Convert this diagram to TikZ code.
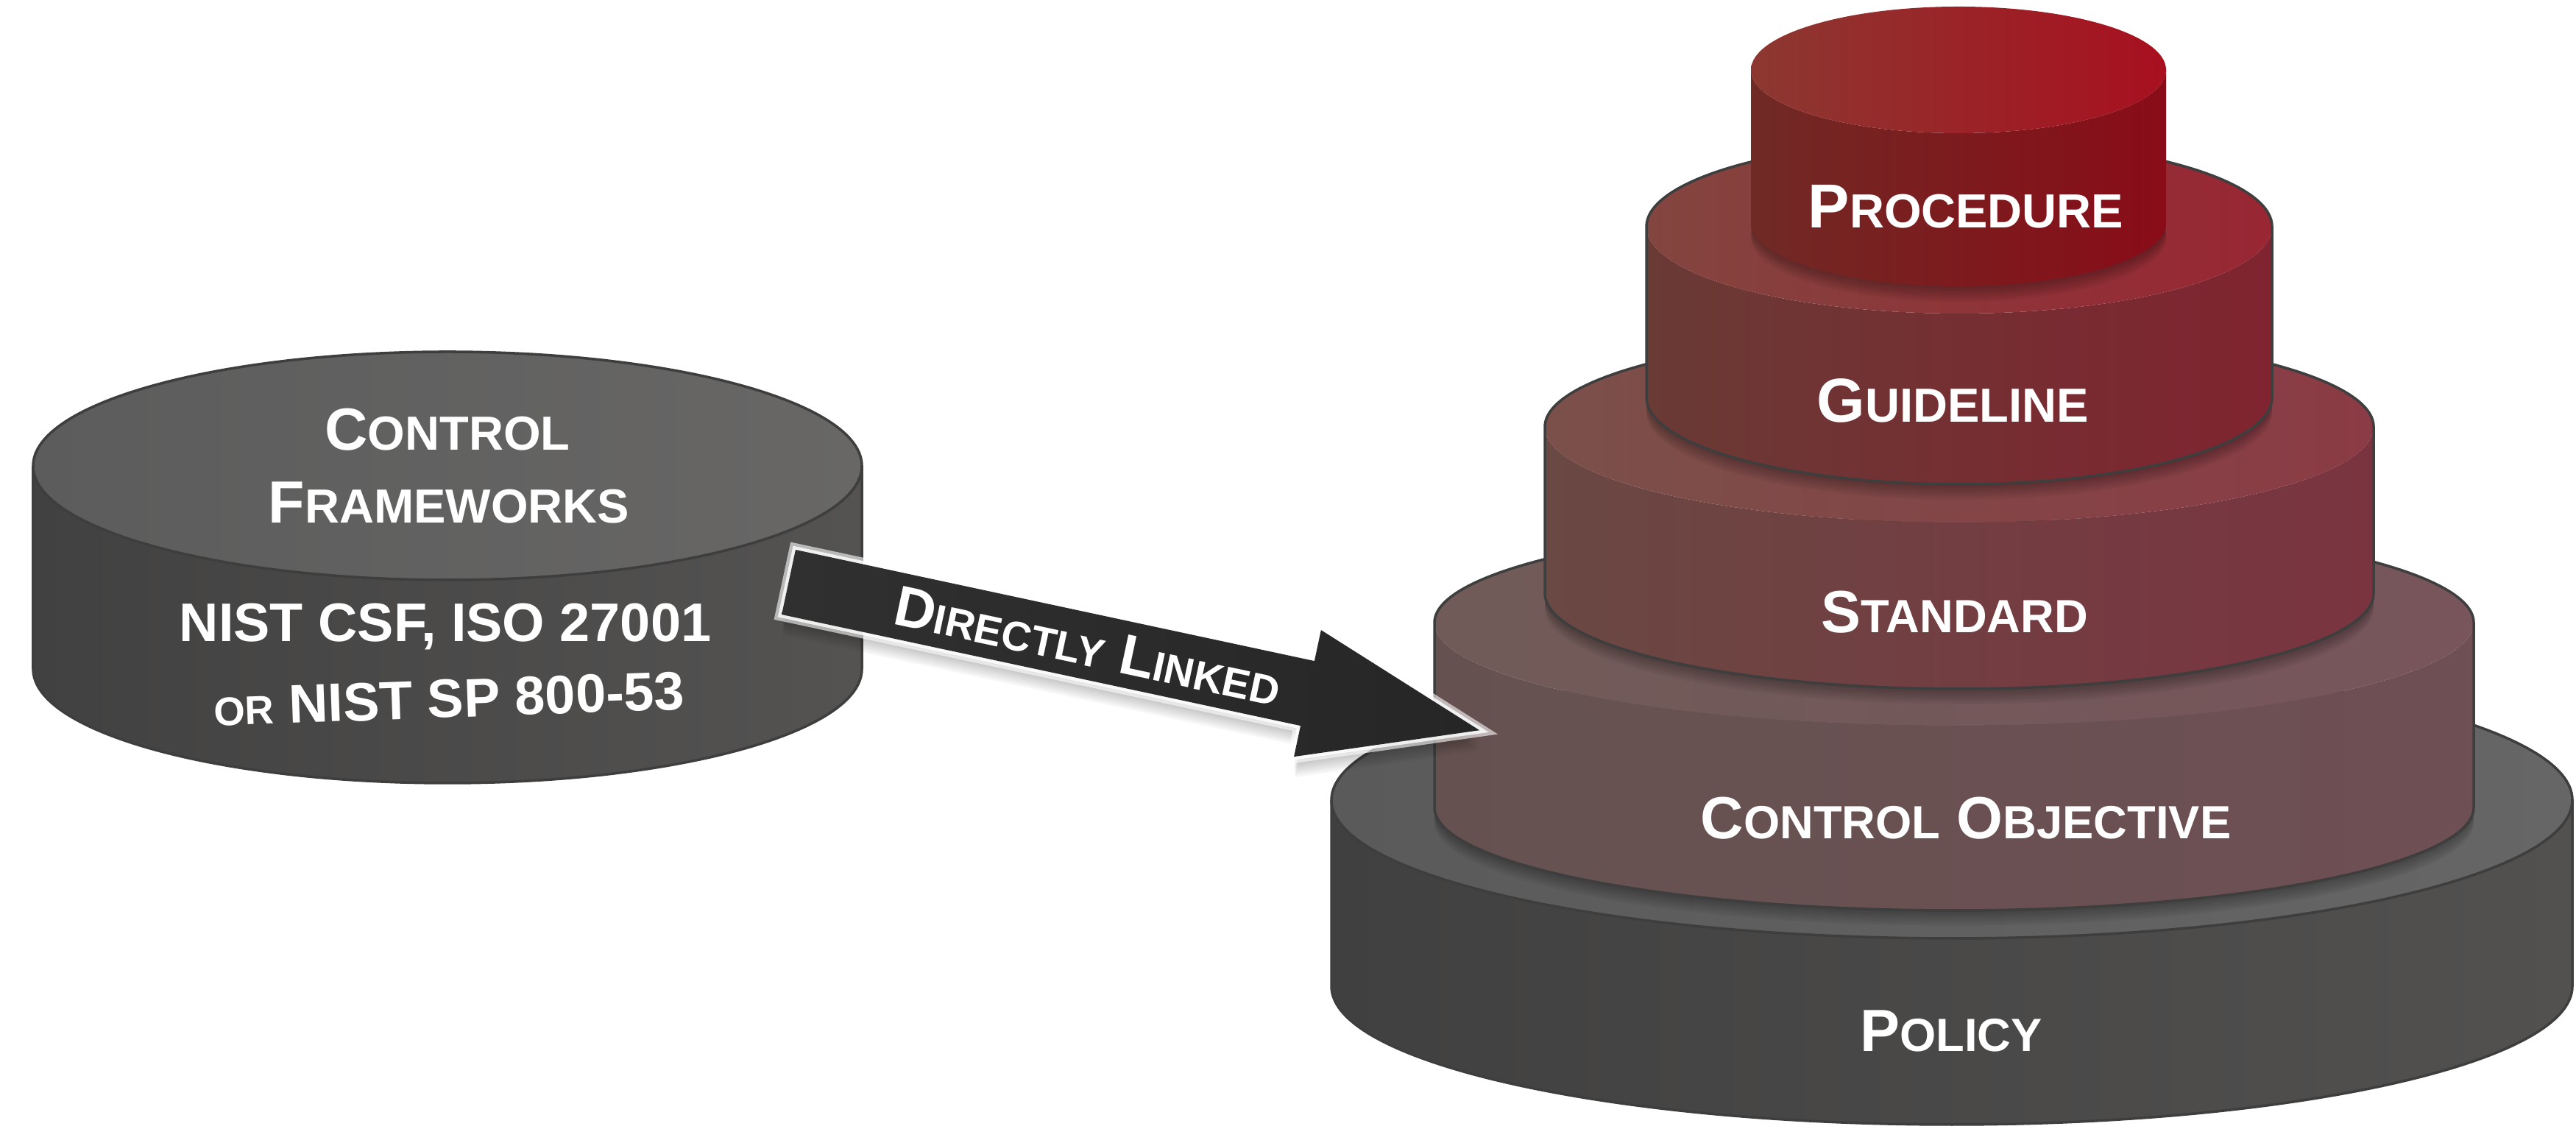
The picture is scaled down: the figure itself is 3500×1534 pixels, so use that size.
\documentclass[tikz,border=0pt]{standalone}
\usepackage{fontspec}
\setmainfont{Liberation Sans}
\usetikzlibrary{calc}
\newcommand\fsz[2]{{\fontsize{#1pt}{#1pt}\selectfont #2}}
\newcommand\scw[4]{\fsz{#1}{#3}\fsz{#2}{#4}}

\definecolor{rimgray}{HTML}{3E3E3E}
\definecolor{lfTopL}{HTML}{5C5C5C}\definecolor{lfTopR}{HTML}{686766}
\definecolor{lfSideL}{HTML}{424141}\definecolor{lfSideR}{HTML}{545352}
\definecolor{poTopL}{HTML}{5A5A5A}\definecolor{poTopR}{HTML}{666666}
\definecolor{poSideL}{HTML}{414040}\definecolor{poSideR}{HTML}{525150}
\definecolor{coTopL}{HTML}{705B58}\definecolor{coTopR}{HTML}{77555B}
\definecolor{coSideL}{HTML}{655250}\definecolor{coSideR}{HTML}{6E4F54}
\definecolor{stTopL}{HTML}{7B504A}\definecolor{stTopR}{HTML}{8B3B45}
\definecolor{stSideL}{HTML}{6A4843}\definecolor{stSideR}{HTML}{7A3440}
\definecolor{guTopL}{HTML}{83453F}\definecolor{guTopR}{HTML}{982633}
\definecolor{guSideL}{HTML}{6A3A35}\definecolor{guSideR}{HTML}{7F2430}
\definecolor{prTopL}{HTML}{8C3831}\definecolor{prTopR}{HTML}{A8101F}
\definecolor{prSideL}{HTML}{702A25}\definecolor{prSideR}{HTML}{890C18}
\definecolor{arrowL}{HTML}{303030}\definecolor{arrowR}{HTML}{262626}

% #1 cx, #2 rx, #3 Ytop, #4 Ybot, #5 ry, #6 side L, #7 side R, #8 top L, #9 top R
\newcommand\cylbody[9]{%
  \shade[left color=#6, right color=#7]
    (#1-#2,#3) -- (#1-#2,#4)
    arc[start angle=180, end angle=360, x radius=#2, y radius=#5]
    -- (#1+#2,#3)
    arc[start angle=0, end angle=-180, x radius=#2, y radius=#5] -- cycle;
  \shade[left color=#8, right color=#9] (#1,#3) ellipse[x radius=#2, y radius=#5];
}
\newcommand\cylrim[5]{%
  \draw[rim] (#1-#2,#3) -- (#1-#2,#4)
    arc[start angle=180, end angle=360, x radius=#2, y radius=#5]
    -- (#1+#2,#3)
    arc[start angle=0, end angle=180, x radius=#2, y radius=#5] -- cycle;
}
\newcommand\cylfront[4]{%
  \draw[rim] (#1+#2,#3) arc[start angle=0, end angle=-180, x radius=#2, y radius=#4];
}
\newcommand\cylshadow[4]{%
  \foreach \o in {3,6,...,21}
    \fill[black, opacity=0.045] (#1,#3-\o) ellipse[x radius=#2, y radius=#4];
}

\tikzset{
  lbl/.style={text=white, font=\bfseries, inner sep=0pt, anchor=base},
  rim/.style={draw=rimgray, line width=1pt, line join=round},
  arrowshape/.style={line join=miter},
}

\begin{document}
\begin{tikzpicture}[x=0.01cm, y=0.01cm]
\useasboundingbox (0,0) rectangle (3500,1534);

% ---------- left cylinder: control frameworks ----------
\cylbody{608}{563}{901}{625}{155}{lfSideL}{lfSideR}{lfTopL}{lfTopR}
\cylrim{608}{563}{901}{625}{155}
\cylfront{608}{563}{901}{155}
\node[lbl] (cf1) at (608,922) {\scw{23}{18.5}{C}{ONTROL}};
\node[lbl] (cf2) at (610,823) {\scw{23}{18.5}{F}{RAMEWORKS}};
\node[lbl] (cf3) at (605,662) {\fsz{21}{NIST CSF, ISO 27001}};
\node[lbl, rotate=2] (cf4) at (611,559) {\fsz{21}{\fsz{15.5}{OR} NIST SP 800-53}};

% ---------- right stack ----------
% policy
\cylbody{2652}{843}{447}{194}{188}{poSideL}{poSideR}{poTopL}{poTopR}
\cylrim{2652}{843}{447}{194}{188}
\cylfront{2652}{843}{447}{188}
% control objective
\cylshadow{2655}{706}{437}{140}
\cylbody{2655}{706}{688}{437}{140}{coSideL}{coSideR}{coTopL}{coTopR}
\cylrim{2655}{706}{688}{437}{140}
% standard
\cylshadow{2662}{563}{728}{130}
\cylbody{2662}{563}{954}{728}{130}{stSideL}{stSideR}{stTopL}{stTopR}
\cylrim{2662}{563}{954}{728}{130}
% guideline
\cylshadow{2662}{425}{994}{118}
\cylbody{2662}{425}{1226}{994}{118}{guSideL}{guSideR}{guTopL}{guTopR}
\cylrim{2662}{425}{1226}{994}{118}
% procedure
\cylshadow{2661}{282}{1231}{86}
\cylbody{2661}{282}{1439}{1231}{86}{prSideL}{prSideR}{prTopL}{prTopR}

\node[lbl] (proc) at (2671,1224) {\scw{24}{18.5}{P}{ROCEDURE}};
\node[lbl] (guide) at (2653,960) {\scw{24}{18.5}{G}{UIDELINE}};
\node[lbl] (std) at (2656,674) {\scw{23}{18}{S}{TANDARD}};
\node[lbl] (cobj) at (2671,394) {\fsz{23}{\scw{23}{18}{C}{ONTROL} \scw{23}{18}{O}{BJECTIVE}}};
\node[lbl] (pol) at (2651,105) {\scw{23}{18}{P}{OLICY}};

% ---------- arrow: directly linked ----------
\begin{scope}[shift={(1071.5,743)}, rotate=-12.1]
  \foreach \o in {2,4,...,18}
    \fill[black, opacity=0.035, shift={(0.4*\o,-1.5*\o)}]
      (0,45) -- (721,45) -- (721,88) -- (960,0) -- (721,-88) -- (721,-45) -- (0,-45) -- cycle;
  \draw[white, opacity=0.6, line width=5pt, arrowshape]
      (0,45) -- (721,45) -- (721,88) -- (960,0) -- (721,-88) -- (721,-45) -- (0,-45) -- cycle;
  \draw[white, opacity=0.8, line width=2.5pt, arrowshape]
      (0,45) -- (721,45) -- (721,88) -- (960,0) -- (721,-88) -- (721,-45) -- (0,-45) -- cycle;
  \shade[left color=arrowL, right color=arrowR, arrowshape]
      (0,45) -- (721,45) -- (721,88) -- (960,0) -- (721,-88) -- (721,-45) -- (0,-45) -- cycle;
  \node[lbl, anchor=center, rotate=-12.1] (link) at (416,0)
      {\fsz{22}{\scw{22}{16}{D}{IRECTLY} \scw{22}{16}{L}{INKED}}};
\end{scope}
\end{tikzpicture}
\end{document}
